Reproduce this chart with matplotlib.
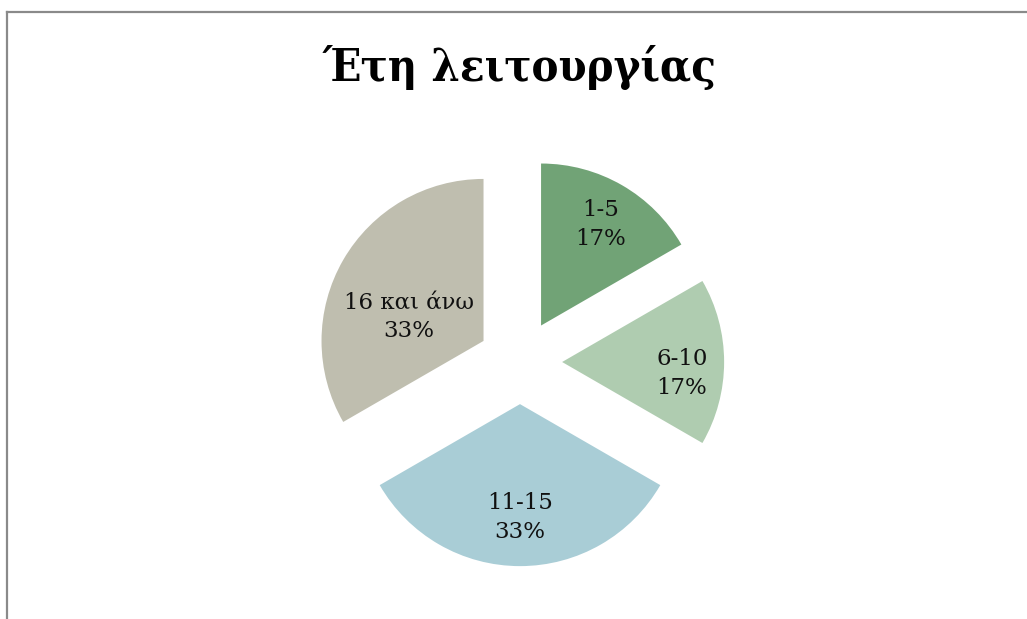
import matplotlib

matplotlib.use("Agg")
import matplotlib.pyplot as plt
import numpy as np
from matplotlib.lines import Line2D

# data
categories = ["1-5", "6-10", "11-15", "16 και άνω"]
counts = [1, 1, 2, 2]
colors = ["#71A376", "#AFCCB0", "#A9CDD6", "#BFBEAF"]
title = "Έτη λειτουργίας"

W, H = 1027, 619
R_PX = 162.0
CX, CY = 520.0, 362.0  # pie centre in pixels from top-left

fig = plt.figure(figsize=(W / 100, H / 100), dpi=100)
ax = fig.add_axes([0, 0, 1, 1])

wedges, _ = ax.pie(
    counts,
    colors=colors,
    startangle=90,
    counterclock=False,
    explode=[0.26] * len(counts),
    radius=1.0,
    wedgeprops={"linewidth": 0},
)

# keep one data unit = R_PX pixels
ax.set_xlim(-CX / R_PX, (W - CX) / R_PX)
ax.set_ylim(-(H - CY) / R_PX, CY / R_PX)
ax.set_aspect("auto")
ax.axis("off")

total = sum(counts)
label_r = [0.73, 0.74, 0.69, 0.52]
label_shift = [(0, -0.01), (0, -0.07), (0, -0.01), (-0.01, -0.11)]
for w, cat, n, r, (sx, sy) in zip(wedges, categories, counts, label_r, label_shift):
    mid = np.deg2rad((w.theta1 + w.theta2) / 2)
    cx, cy = w.center
    x = cx + r * np.cos(mid) + sx
    y = cy + r * np.sin(mid) + sy
    ax.text(
        x, y, f"{cat}\n{round(100 * n / total)}%",
        ha="center", va="center", fontsize=16.5, family="DejaVu Serif",
        linespacing=1.4, color="#111111",
    )

fig.text(
    CX / W, 1 - 67 / H, title, ha="center", va="center",
    fontsize=32.5, fontweight="bold", family="DejaVu Serif", fontstretch="condensed",
)

# chart border (only top and left visible)
fig.add_artist(Line2D([6.5 / W, 1], [1 - 11.5 / H] * 2, transform=fig.transFigure,
                      color="#8a8a8a", lw=1.6))
fig.add_artist(Line2D([6.5 / W] * 2, [0, 1 - 11.5 / H], transform=fig.transFigure,
                      color="#8a8a8a", lw=1.6))

fig.savefig("out.png", dpi=100)
